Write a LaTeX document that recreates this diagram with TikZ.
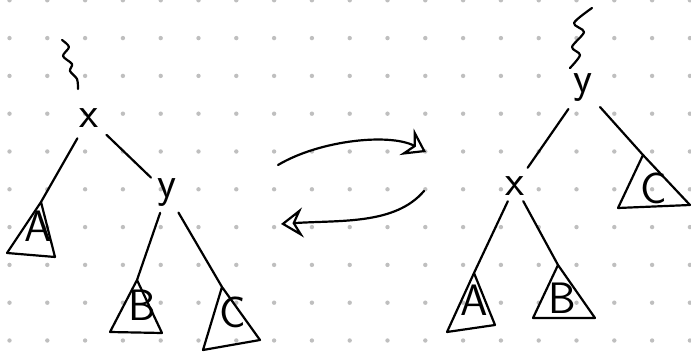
\documentclass[tikz,border=0pt]{standalone}
\usetikzlibrary{arrows.meta}
\begin{document}
\begin{tikzpicture}[x=1pt,y=-1pt, line cap=round, line join=round,
  ink/.style={line width=2.2pt, black},
  lbl/.style={font=\sffamily\fontsize{44}{44}\selectfont, inner sep=2pt},
  grdot/.style={fill=black!25, draw=none},
  head/.style={-{Stealth[open, length=22pt, width=30pt, inset=8pt, line width=2.2pt]}}]
\useasboundingbox (0,0) rectangle (691,355);
\foreach \i in {0,...,18} \foreach \j in {0,...,9} \fill[grdot] (9.5+37.8*\i, 0.3+37.8*\j) circle (2.2);

% ---------- left tree ----------
\draw[ink] plot[smooth] coordinates {(62,40) (69,47) (63,56) (72,64) (70,71) (77,79) (78,89)};
\node[lbl] (x1) at (89,118) {x};
\node[lbl] (y1) at (167,193) {y};
\coordinate (a1) at (41,202);
\coordinate (b1) at (137,280);
\coordinate (c1) at (222,287);
\draw[ink] (a1) -- (7,253) -- (55,257) -- cycle;
\draw[ink] (b1) -- (110,332) -- (162,333) -- cycle;
\draw[ink] (c1) -- (203,350) -- (260,340) -- cycle;
\node[lbl] (A1) at (38,226) {A};
\node[lbl] (B1) at (142,305) {B};
\node[lbl] (C1) at (233,312) {C};
\draw[ink, shorten <=10pt] (x1) -- (a1);
\draw[ink, shorten <=8pt, shorten >=6pt] (x1) -- (y1);
\draw[ink, shorten <=4pt] (y1) -- (b1);
\draw[ink, shorten <=4pt] (y1) -- (c1);

% ---------- arrows ----------
\coordinate (p1) at (278,165);
\coordinate (p2) at (426,152);
\coordinate (q1) at (424,191);
\coordinate (q2) at (281,224);
\draw[ink, head] (p1) .. controls (320,140) and (390,133) .. (p2);
\draw[ink, head] (q1) .. controls (395,225) and (340,220) .. (q2);

% ---------- right tree ----------
\draw[ink] plot[smooth] coordinates {(592,8) (574,23) (584,32) (572,47) (580,55) (570,68)};
\node[lbl] (y2) at (583,88) {y};
\node[lbl] (x2) at (515,186) {x};
\coordinate (a2) at (474,273);
\coordinate (b2) at (558,265);
\coordinate (c2) at (643,155);
\draw[ink] (a2) -- (447,332) -- (495,325) -- cycle;
\draw[ink] (b2) -- (533,318) -- (595,318) -- cycle;
\draw[ink] (c2) -- (618,208) -- (690,205) -- cycle;
\node[lbl] (A2) at (474,300) {A};
\node[lbl] (B2) at (562,298) {B};
\node[lbl] (C2) at (654,188) {C};
\draw[ink, shorten <=6pt, shorten >=8pt] (y2) -- (x2);
\draw[ink, shorten <=8pt] (y2) -- (c2);
\draw[ink, shorten <=4pt] (x2) -- (a2);
\draw[ink, shorten <=4pt] (x2) -- (b2);
\end{tikzpicture}
\end{document}
